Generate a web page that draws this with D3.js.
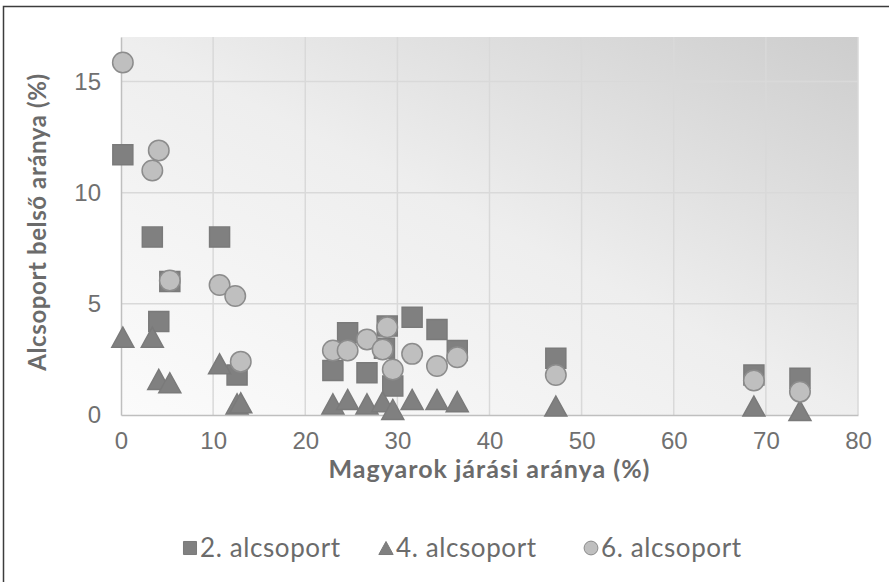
<!DOCTYPE html>
<html>
<head>
<meta charset="utf-8">
<script src="https://cdn.jsdelivr.net/npm/d3@7"></script>
<style>
  body { margin: 0; background: #fff; }
  svg { display: block; font-family: Lato, 'Open Sans', sans-serif; }
</style>
</head>
<body>
<div id="chart"></div>
<script>
// 2. alcsoport (squares)
const sq2X = [0.2, 3.4, 10.7, 4.1, 5.3, 12.6, 23.0, 24.6, 26.7, 28.9, 28.6, 29.5, 31.6, 34.3, 36.5, 47.2, 68.7, 73.7]
const sq2Y = [11.7, 8.0, 8.0, 4.2, 6.0, 1.8, 2.0, 3.7, 1.9, 4.0, 3.0, 1.3, 4.4, 3.85, 2.9, 2.55, 1.8, 1.65]

// 4. alcsoport (triangles)
const tri4X = [0.2, 3.4, 4.1, 5.3, 10.7, 12.6, 13.0, 23.0, 24.6, 26.7, 28.4, 29.5, 31.6, 34.3, 36.5, 47.2, 68.7, 73.7]
const tri4Y = [3.5, 3.5, 1.6, 1.45, 2.3, 0.5, 0.55, 0.5, 0.7, 0.5, 0.6, 0.25, 0.7, 0.7, 0.6, 0.4, 0.4, 0.2]

// 6. alcsoport (circles)
const circ6X = [0.2, 4.1, 3.4, 5.3, 10.7, 12.4, 13.0, 23.0, 24.6, 26.7, 28.9, 28.4, 29.5, 31.6, 34.3, 36.5, 47.2, 68.7, 73.7]
const circ6Y = [15.85, 11.9, 11.0, 6.05, 5.85, 5.35, 2.4, 2.9, 2.9, 3.4, 3.95, 2.95, 2.05, 2.75, 2.2, 2.6, 1.8, 1.55, 1.05]

const xTicks = [0, 10, 20, 30, 40, 50, 60, 70, 80]
const yTicks = [0, 5, 10, 15]
const seriesNames = ['2. alcsoport', '4. alcsoport', '6. alcsoport']
const xTitle = 'Magyarok járási aránya (%)'
const yTitle = 'Alcsoport belső aránya (%)'

const width = 889
const height = 582
const margin = { top: 37, right: 31, bottom: 167, left: 121 }

const svg = d3
  .select('#chart')
  .append('svg')
  .attr('width', width)
  .attr('height', height)

// gradient for plot area
const defs = svg.append('defs')
const grad = defs
  .append('linearGradient')
  .attr('id', 'plotBg')
  .attr('x1', 0).attr('y1', 1)
  .attr('x2', 1).attr('y2', 0)
grad.append('stop').attr('offset', 0).attr('stop-color', '#fbfbfb')
grad.append('stop').attr('offset', 0.5).attr('stop-color', '#eeeeee')
grad.append('stop').attr('offset', 1).attr('stop-color', '#cdcdcd')

// outer frame
svg
  .append('rect')
  .attr('x', 3.5)
  .attr('y', 6.5)
  .attr('width', width + 10)
  .attr('height', height + 10)
  .attr('fill', '#fff')
  .attr('stroke', '#3c3c3c')
  .attr('stroke-width', 1.5)

const xScale = d3
  .scaleLinear()
  .domain([0, 80])
  .range([margin.left, width - margin.right])

const yScale = d3
  .scaleLinear()
  .domain([0, 17])
  .range([height - margin.bottom, margin.top])

svg
  .append('rect')
  .attr('x', xScale(0))
  .attr('y', yScale(17))
  .attr('width', xScale(80) - xScale(0))
  .attr('height', yScale(0) - yScale(17))
  .attr('fill', 'url(#plotBg)')

// grid
svg
  .append('g')
  .selectAll('line')
  .data(xTicks.slice(1))
  .join('line')
  .attr('x1', (d) => xScale(d))
  .attr('x2', (d) => xScale(d))
  .attr('y1', yScale(17))
  .attr('y2', yScale(0))
  .attr('stroke', '#d9d9d9')
  .attr('stroke-width', 1.5)

svg
  .append('g')
  .selectAll('line')
  .data(yTicks.slice(1))
  .join('line')
  .attr('x1', xScale(0))
  .attr('x2', xScale(80))
  .attr('y1', (d) => yScale(d))
  .attr('y2', (d) => yScale(d))
  .attr('stroke', '#d9d9d9')
  .attr('stroke-width', 1.5)

// axes
const xAxis = d3.axisBottom(xScale).tickValues(xTicks).tickSize(0).tickPadding(17)
const yAxis = d3.axisLeft(yScale).tickValues(yTicks).tickSize(0).tickPadding(20)

const gx = svg
  .append('g')
  .attr('transform', `translate(0, ${yScale(0)})`)
  .call(xAxis)
gx.select('.domain').attr('stroke', '#bfbfbf').attr('stroke-width', 1.5)
gx.selectAll('text').attr('fill', '#707070').style('font-size', '24px')

const gy = svg
  .append('g')
  .attr('transform', `translate(${xScale(0)}, 0)`)
  .call(yAxis)
gy.select('.domain').attr('stroke', '#bfbfbf').attr('stroke-width', 1.5)
gy.selectAll('text').attr('fill', '#707070').style('font-size', '24px')

// titles
svg
  .append('text')
  .attr('x', (xScale(0) + xScale(80)) / 2)
  .attr('y', 478)
  .attr('text-anchor', 'middle')
  .attr('fill', '#6b6b6b')
  .style('font-size', '25px')
  .style('font-weight', 'bold')
  .style('letter-spacing', '1px')
  .text(xTitle)

svg
  .append('text')
  .attr('transform', 'translate(46, 222) rotate(-90)')
  .attr('text-anchor', 'middle')
  .attr('fill', '#6b6b6b')
  .style('font-size', '24px')
  .style('font-weight', 'bold')
  .style('letter-spacing', '0.6px')
  .text(yTitle)

// marker shapes
const triangleBox = {
  draw(ctx, size) {
    const w = Math.sqrt(size) * 1.1
    const h = Math.sqrt(size)
    ctx.moveTo(0, -h / 2)
    ctx.lineTo(w / 2, h / 2)
    ctx.lineTo(-w / 2, h / 2)
    ctx.closePath()
  },
}

const series = [
  { name: seriesNames[0], xs: sq2X, ys: sq2Y, type: d3.symbolSquare, fill: '#808080', stroke: '#7a7a7a', size: 400 },
  { name: seriesNames[1], xs: tri4X, ys: tri4Y, type: triangleBox, fill: '#808080', stroke: '#7a7a7a', size: 400 },
  { name: seriesNames[2], xs: circ6X, ys: circ6Y, type: d3.symbolCircle, fill: '#bfbfbf', stroke: '#8c8c8c', size: 330 },
]

series.forEach((s) => {
  svg
    .append('g')
    .selectAll('path')
    .data(s.xs.map((x, i) => [x, s.ys[i]]))
    .join('path')
    .attr('transform', (d) => `translate(${xScale(d[0])}, ${yScale(d[1])})`)
    .attr('d', d3.symbol().type(s.type).size(s.size))
    .attr('fill', s.fill)
    .attr('stroke', s.stroke)
    .attr('stroke-width', 1.5)
})

// legend
const legendX = [190, 386, 591]
const legend = svg.append('g').attr('transform', 'translate(0, 548)')
series.forEach((s, i) => {
  legend
    .append('path')
    .attr('transform', `translate(${legendX[i]}, 0)`)
    .attr('d', d3.symbol().type(s.type).size(i === 2 ? 150 : 170)())
    .attr('fill', s.fill)
    .attr('stroke', s.stroke)
    .attr('stroke-width', 1)
  legend
    .append('text')
    .attr('x', legendX[i] + 10)
    .attr('y', 0)
    .attr('dy', '0.35em')
    .attr('fill', '#6b6b6b')
    .style('font-size', '26px')
    .style('letter-spacing', '0.6px')
    .text(s.name)
})
</script>
</body>
</html>
